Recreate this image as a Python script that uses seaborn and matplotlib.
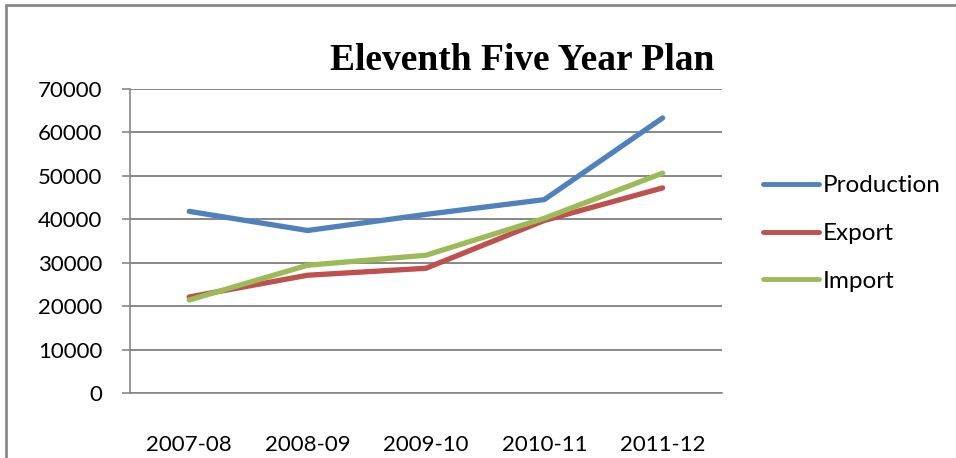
import matplotlib
matplotlib.use("Agg")
import matplotlib.pyplot as plt
import seaborn as sb
import pandas as pd
from matplotlib.ticker import FixedLocator
from matplotlib.lines import Line2D

# data
years = ["2007-08", "2008-09", "2009-10", "2010-11", "2011-12"]
production = [41800, 37400, 41100, 44500, 63300]
export = [22100, 27100, 28700, 39700, 47200]
imports = [21400, 29400, 31700, 40200, 50600]
series_names = ["Production", "Export", "Import"]
colours = ["#4F81BD", "#C0504D", "#9BBB59"]

df = pd.DataFrame({"Year": years * 3,
                   "Value": production + export + imports,
                   "Series": [n for n in series_names for _ in years]})

sb.set_style("white")
plt.rcParams['font.family'] = ['Lato', 'DejaVu Sans']
plt.rcParams['text.color'] = 'black'
plt.rcParams['xtick.labelcolor'] = 'black'
plt.rcParams['ytick.labelcolor'] = 'black'

fig = plt.figure(figsize=(9.56, 4.58), dpi=100)
ax = fig.add_axes([0.136, 0.142, 0.619, 0.664])

sb.lineplot(data=df, x="Year", y="Value", hue="Series", palette=colours,
            linewidth=3.8, ax=ax, legend=False, sort=False)
for ln in ax.get_lines():
    ln.set_solid_capstyle("round")
    ln.set_solid_joinstyle("round")

grid_col = "#878787"
ax.set_xlim(-0.5, 4.5)
ax.set_ylim(0, 70000)
ax.set_yticks(range(0, 70001, 10000))
ax.yaxis.grid(True, color=grid_col, linewidth=1.4)
ax.set_axisbelow(True)
for s in ["top", "right"]:
    ax.spines[s].set_visible(False)
for s in ["left", "bottom"]:
    ax.spines[s].set_color(grid_col)
    ax.spines[s].set_linewidth(1.2)

# category labels between the boundary tick marks
ax.set_xticks(range(len(years)))
ax.set_xticklabels(years)
ax.xaxis.set_minor_locator(FixedLocator([i - 0.5 for i in range(len(years) + 1)]))
ax.tick_params(axis="x", which="major", length=0, pad=30, labelsize=16)
ax.tick_params(axis="x", which="minor", length=7, width=1.2, color=grid_col, direction="out")
ax.tick_params(axis="y", length=6, width=1.2, color=grid_col, direction="out", pad=14, labelsize=16, left=True)
ax.set_xlabel("")
ax.set_ylabel("")

fig.text(0.546, 0.868, "Eleventh Five Year Plan", ha="center", va="center",
         fontsize=27, fontweight="bold", family=["Liberation Serif", "DejaVu Serif"])

handles = [Line2D([], [], color=c, linewidth=3.5, solid_capstyle="round") for c in colours]
fig.legend(handles, series_names, loc="upper left", bbox_to_anchor=(0.798, 0.617),
           frameon=False, fontsize=17.5, handlelength=2.3, handletextpad=0.15,
           labelspacing=1.1, borderpad=0, borderaxespad=0)

# outer chart frame
fig.add_artist(Line2D([0.006, 0.006], [0.0, 0.99], color="#8a8a8a", linewidth=2,
                      transform=fig.transFigure))
fig.add_artist(Line2D([0.006, 1.0], [0.99, 0.99], color="#8a8a8a", linewidth=2,
                      transform=fig.transFigure))

fig.savefig("out.png", dpi=100)
